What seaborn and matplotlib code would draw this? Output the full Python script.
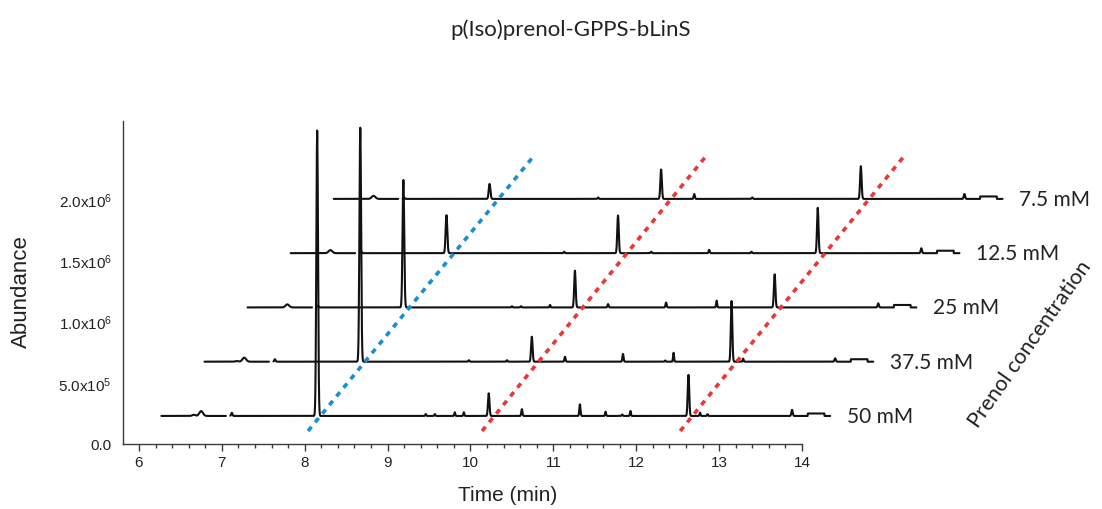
import numpy as np
import pandas as pd
import matplotlib
matplotlib.use("Agg")
import matplotlib.pyplot as plt
import seaborn as sns
from matplotlib.ticker import MultipleLocator, FixedLocator, FixedFormatter

# ---------------- data ----------------
concentrations = ["50 mM", "37.5 mM", "25 mM", "12.5 mM", "7.5 mM"]

# retention times (min) of the peaks, common to all runs
peak_times = [6.66, 6.75, 7.12, 8.15, 9.46, 9.57, 9.81, 9.92, 10.22,
              10.62, 11.32, 11.63, 11.83, 11.93, 12.63, 12.77, 12.86, 13.88]
peak_widths = [0.018, 0.022, 0.008, 0.010, 0.006, 0.006, 0.006, 0.006, 0.009,
               0.007, 0.007, 0.006, 0.006, 0.006, 0.009, 0.006, 0.006, 0.008]

# peak heights (abundance) per run
h_50 = [10e3, 40e3, 25e3, 2.33e6, 15e3, 15e3, 30e3, 30e3, 185e3,
        55e3, 95e3, 35e3, 12e3, 40e3, 335e3, 27e3, 15e3, 50e3]
h_37 = [5e3, 33e3, 20e3, 1.91e6, 12e3, 0, 0, 12e3, 204e3,
        40e3, 63e3, 0, 10e3, 73e3, 495e3, 25e3, 0, 27e3]
h_25 = [0, 25e3, 15e3, 1.04e6, 10e3, 10e3, 0, 20e3, 300e3,
        27e3, 40e3, 0, 0, 55e3, 270e3, 0, 0, 33e3]
h_12 = [0, 25e3, 15e3, 0.31e6, 0, 12e3, 0, 0, 307e3,
        12e3, 27e3, 0, 12e3, 0, 370e3, 0, 0, 40e3]
h_7 = [0, 25e3, 10e3, 0.122e6, 12e3, 0, 0, 0, 240e3,
       40e3, 12e3, 0, 0, 0, 267e3, 0, 0, 40e3]
heights = [h_50, h_37, h_25, h_12, h_7]

run_start, run_end = 6.27, 14.34          # recorded time window (min)
gap_start, gap_end = 7.05, 7.10           # break in the recorded trace
step_start, step_end, step_height = 14.07, 14.27, 20e3   # baseline step at end

time_shift = 0.52          # horizontal stagger between runs (min)
first_baseline = 0.229e6   # baseline of the 50 mM run
abundance_shift = 0.443e6  # vertical stagger between runs

# dashed guide lines linking the same compound across runs
guide_x0 = [8.04, 10.14, 12.53]
guide_x1 = [10.75, 12.83, 15.22]
guide_y0, guide_y1 = 0.106e6, 2.34e6
guide_colors = ["#1a8fd0", "#e8393a", "#e8393a"]

y_ticks = [0, 5e5, 1e6, 1.5e6, 2e6]
y_tick_labels = ["0.0", "5.0x10$^{5}$", "1.0x10$^{6}$", "1.5x10$^{6}$", "2.0x10$^{6}$"]

# ---------------- build traces ----------------
t = np.round(np.arange(run_start, run_end + 1e-9, 0.002), 4)
rows = []
for i, (conc, hs) in enumerate(zip(concentrations, heights)):
    sig = np.zeros_like(t)
    for pt, pw, ph in zip(peak_times, peak_widths, hs):
        sig += ph * np.exp(-0.5 * ((t - pt) / pw) ** 2)
    sig += np.where((t >= step_start) & (t <= step_end), step_height, 0.0)
    seg = np.where(t < gap_start, 0, 1)
    keep = (t < gap_start) | (t > gap_end)
    df = pd.DataFrame({
        "time": t[keep] + i * time_shift,
        "abundance": sig[keep] + first_baseline + i * abundance_shift,
        "unit": [f"{conc}_{s}" for s in seg[keep]],
        "run": conc,
    })
    rows.append(df)
traces = pd.concat(rows, ignore_index=True)

guides = pd.DataFrame({
    "time": guide_x0 + guide_x1,
    "abundance": [guide_y0] * 3 + [guide_y1] * 3,
    "guide": ["g0", "g1", "g2"] * 2,
})

# ---------------- plot ----------------
sns.set_style("ticks")
plt.rcParams["font.family"] = ["Liberation Sans", "DejaVu Sans"]
plt.rcParams["mathtext.fontset"] = "custom"
plt.rcParams["mathtext.rm"] = "Liberation Sans"
plt.rcParams["mathtext.it"] = "Liberation Sans"
plt.rcParams["mathtext.default"] = "regular"

fig = plt.figure(figsize=(11.02, 5.10), dpi=100)
ax = fig.add_axes([123 / 1102, 65 / 510, 679 / 1102, 323 / 510])

sns.lineplot(data=traces, x="time", y="abundance", units="unit", estimator=None,
             sort=False, color="#111111", linewidth=1.5, ax=ax, legend=False)
for art in list(ax.get_lines()) + list(ax.collections):
    art.set_clip_on(False)
for line in ax.get_lines():
    line.recache_always()   # drop the x-subslicing so the runs extend past the axis

n_before = len(ax.get_lines())
sns.lineplot(data=guides, x="time", y="abundance", hue="guide",
             palette=guide_colors, estimator=None, sort=False,
             linewidth=2.6, ax=ax, legend=False)
for line in ax.get_lines()[n_before:]:
    line.set_clip_on(False)
    line.set_linestyle((0, (1.5, 1.6)))
    line.set_zorder(5)

ax.set_xlim(5.807, 14.0)
ax.set_ylim(0, 2.637e6)

ax.xaxis.set_major_locator(MultipleLocator(1))
ax.xaxis.set_minor_locator(MultipleLocator(0.2))
ax.yaxis.set_major_locator(FixedLocator(y_ticks))
ax.yaxis.set_major_formatter(FixedFormatter(y_tick_labels))

for s in ["top", "right"]:
    ax.spines[s].set_visible(False)
for s in ["left", "bottom"]:
    ax.spines[s].set_color("#3a3a3a")
    ax.spines[s].set_linewidth(1.0)

ax.tick_params(axis="x", which="major", length=5, width=1.0, color="#3a3a3a",
               direction="out", labelsize=11, pad=3, labelcolor="#222222")
ax.tick_params(axis="x", which="minor", length=2.8, width=1.0, color="#3a3a3a",
               direction="out")
ax.tick_params(axis="y", which="both", length=0, labelsize=11, pad=8,
               labelcolor="#222222")

ax.set_xlabel("Time (min)", fontsize=15, color="#222222")
ax.set_ylabel("Abundance", fontsize=16, color="#222222")
ax.xaxis.set_label_coords(0.566, -0.128)
ax.yaxis.set_label_coords(-0.134, 0.474)

lab_font = ["Lato", "DejaVu Sans"]
for i, conc in enumerate(concentrations):
    ax.text(run_end + i * time_shift + 0.2, first_baseline + i * abundance_shift,
            conc, family=lab_font, fontsize=15, color="#222222",
            ha="left", va="center", clip_on=False)

fig.text(1030 / 1102, 1 - 344 / 510, "Prenol concentration", family=lab_font,
         fontsize=15.5, color="#222222", rotation=55, ha="center", va="center",
         rotation_mode="anchor")
fig.text(571 / 1102, 1 - 30 / 510, "p(Iso)prenol-GPPS-bLinS", family=lab_font,
         fontsize=16, color="#222222", ha="center", va="center")

fig.savefig("out.png", dpi=100)
